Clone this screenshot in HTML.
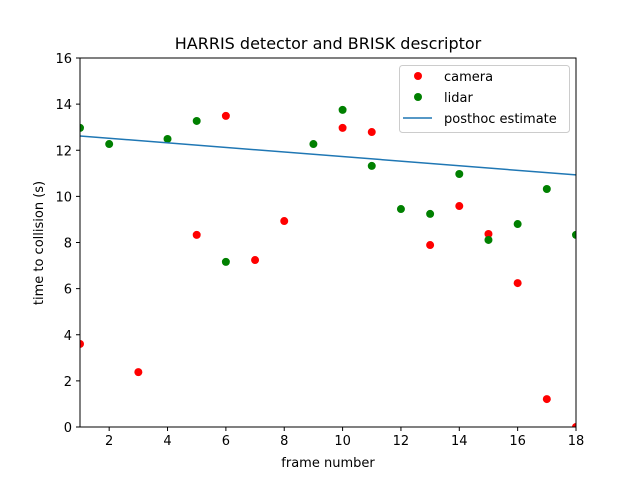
<!DOCTYPE html>
<html><head><meta charset="utf-8"><style>
body{margin:0;background:#fff}
svg{display:block;font-family:"DejaVu Sans","Liberation Sans",sans-serif}
</style></head><body>
<svg id="c" width="640" height="480">
<rect x="0" y="0" width="640" height="480" fill="#fff"/>
<text x="328" y="49" font-size="16" text-anchor="middle">HARRIS detector and BRISK descriptor</text>
<g id="plot"></g>
<text x="328" y="467" font-size="13" text-anchor="middle">frame number</text>
<text transform="translate(43,243) rotate(-90)" font-size="13" text-anchor="middle">time to collision (s)</text>
<g>
<rect x="399.5" y="65.5" width="170" height="67" rx="3" fill="#fff" fill-opacity="0.8" stroke="#ccc"/>
<circle cx="418" cy="76" r="4" fill="red"/>
<text x="444" y="81" font-size="13">camera</text>
<circle cx="418" cy="97" r="4" fill="green"/>
<text x="444" y="102" font-size="13">lidar</text>
<line x1="403" y1="118" x2="432" y2="118" stroke="#1f77b4" stroke-width="1.5"/>
<text x="444" y="123" font-size="13">posthoc estimate</text>
</g>
</svg>
<script>
const cameraX=[1,3,5,6,7,8,10,11,13,14,15,16,17,18];
const cameraY=[3.6,2.38,8.33,13.49,7.24,8.93,12.97,12.79,7.89,9.58,8.37,6.24,1.21,0];
const lidarX=[1,2,4,5,6,9,10,11,12,13,14,15,16,17,18];
const lidarY=[12.97,12.27,12.49,13.27,7.16,12.27,13.75,11.32,9.45,9.24,10.97,8.11,8.80,10.32,8.33];
const estX=[1,18];
const estY=[12.62,10.93];
const xTicks=[2,4,6,8,10,12,14,16,18];
const yTicks=[0,2,4,6,8,10,12,14,16];
const L=80,R=576,T=58,B=427;
const sx=v=>L+(v-1)/(18-1)*(R-L);
const sy=v=>B-v/16*(B-T);
const ns="http://www.w3.org/2000/svg";
const g=document.getElementById('plot');
function mk(t,a){const e=document.createElementNS(ns,t);for(const k in a)e.setAttribute(k,a[k]);g.appendChild(e);return e;}
const clip=document.createElementNS(ns,'clipPath');clip.setAttribute('id','cl');
const cr=document.createElementNS(ns,'rect');cr.setAttribute('x',L);cr.setAttribute('y',T);cr.setAttribute('width',R-L);cr.setAttribute('height',B-T);clip.appendChild(cr);g.appendChild(clip);
cameraX.forEach((x,i)=>{const c=mk('circle',{cx:sx(x),cy:sy(cameraY[i]),r:4,fill:'red','clip-path':'url(#cl)'});

});
lidarX.forEach((x,i)=>{const c=mk('circle',{cx:sx(x),cy:sy(lidarY[i]),r:4,fill:'green','clip-path':'url(#cl)'});

});
const ln=mk('line',{x1:sx(estX[0]),y1:sy(estY[0]),x2:sx(estX[1]),y2:sy(estY[1]),stroke:'#1f77b4','stroke-width':1.5});


const fr=mk('rect',{x:L,y:T,width:R-L,height:B-T,fill:'none',stroke:'#000','stroke-width':1});


xTicks.forEach(v=>{mk('line',{x1:sx(v),x2:sx(v),y1:B,y2:B+4,stroke:'#000'});
const t=mk('text',{x:sx(v),y:B+18,'font-size':13,'text-anchor':'middle'});t.textContent=v;

});
yTicks.forEach(v=>{mk('line',{x1:L-4,x2:L,y1:sy(v),y2:sy(v),stroke:'#000'});
const t=mk('text',{x:L-8,y:sy(v)+5,'font-size':13,'text-anchor':'end'});t.textContent=v;

});
</script>
</body></html>
